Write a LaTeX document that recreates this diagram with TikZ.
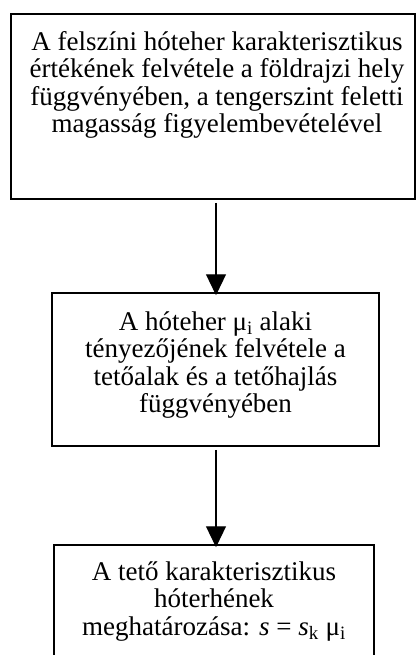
\documentclass[tikz,border=0pt]{standalone}
\usepackage{fontspec}
\setmainfont{Liberation Serif}
\usetikzlibrary{arrows.meta}
\newcommand{\boxfont}{\fontsize{27}{27.5}\selectfont\lineskiplimit -100pt\relax}
\begin{document}
\begin{tikzpicture}[x=1pt,y=-1pt,
  box/.style={draw, line width=1.5pt, rectangle, inner sep=0pt},
  txt/.style={anchor=north, align=center, inner sep=0pt, font=\boxfont},
  arr/.style={line width=1.2pt, shorten <=3pt, shorten >=-3pt,
    -{Triangle[width=20pt,length=21pt]}}]
\useasboundingbox (0,0) rectangle (416,655);
\clip (0,0) rectangle (416,655);
\fill[white] (0,0) rectangle (416,655);
\node[box, minimum width=404pt, minimum height=185pt] (b1) at (213,106.5) {};
\node[box, minimum width=327pt, minimum height=153pt] (b2) at (215.5,369.5) {};
\node[box, minimum width=320pt, minimum height=140pt] (b3) at (214,615) {};
\node[txt] (t1) at (217,25) {\rule{0pt}{25pt}A felszíni hóteher karakterisztikus\\ értékének felvétele a földrajzi hely\\ függvényében, a tengerszint feletti\\ magasság figyelembevételével};
\node[txt] (t2) at (215.5,305) {\rule{0pt}{25pt}A hóteher μ\textsubscript{i} alaki\\ tényezőjének felvétele a\\ tetőalak és a tetőhajlás\\ függvényében};
\node[txt] (t3) at (214,555) {\rule{0pt}{25pt}A tető karakterisztikus\\ hóterhének\\ meghatározása: \textit{s} = \textit{s}\textsubscript{k} μ\textsubscript{i}};
\coordinate (ax) at (216,0);
\draw[arr] (b1.south -| ax) -- (b2.north -| ax);
\draw[arr] (b2.south -| ax) -- (b3.north -| ax);
\end{tikzpicture}
\end{document}
